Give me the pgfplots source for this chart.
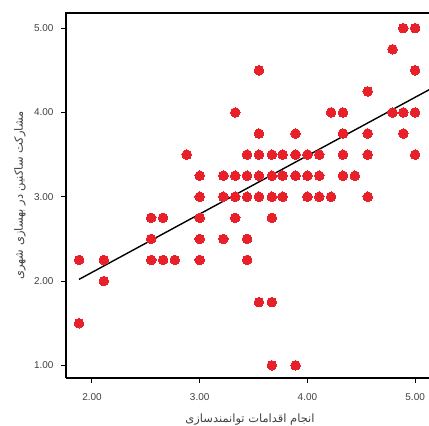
\documentclass[border=0pt]{standalone}
\usepackage{pgfplots}
\pgfplotsset{compat=1.18}
\usepackage{fontspec}
\setmainfont{Liberation Sans}
\newfontfamily\arabicfont[Script=Arabic]{DejaVu Sans}
\TeXXeTstate=1
\definecolor{dotRed}{RGB}{232, 32, 42}

\pgfplotstableread{
x y
1.88 2.25
1.88 1.50
2.11 2.25
2.11 2.00
2.55 2.75
2.55 2.50
2.55 2.25
2.66 2.75
2.66 2.25
2.77 2.25
2.88 3.50
3.00 3.25
3.00 3.00
3.00 2.75
3.00 2.50
3.00 2.25
3.22 3.25
3.22 3.00
3.22 2.50
3.33 4.00
3.33 3.25
3.33 3.00
3.33 2.75
3.44 3.50
3.44 3.25
3.44 3.00
3.44 2.50
3.44 2.25
3.55 4.50
3.55 3.75
3.55 3.50
3.55 3.25
3.55 3.00
3.55 1.75
3.67 3.50
3.67 3.25
3.67 3.00
3.67 2.75
3.67 1.75
3.67 1.00
3.77 3.50
3.77 3.25
3.77 3.00
3.89 3.75
3.89 3.50
3.89 3.25
3.89 1.00
4.00 3.50
4.00 3.25
4.00 3.00
4.11 3.50
4.11 3.25
4.11 3.00
4.22 4.00
4.22 3.00
4.33 4.00
4.33 3.75
4.33 3.50
4.33 3.25
4.44 3.25
4.56 4.25
4.56 3.75
4.56 3.50
4.56 3.00
4.79 4.75
4.79 4.00
4.89 5.00
4.89 4.00
4.89 3.75
5.00 5.00
5.00 4.50
5.00 4.00
5.00 3.50
}\scatterdata

\begin{document}
\begin{tikzpicture}
\begin{axis}[
    name=ax,
    scale only axis,
    width=368bp, height=365bp,
    xmin=1.759, xmax=5.175,
    ymin=0.85, ymax=5.18,
    xtick={2,3,4,5}, ytick={1,2,3,4,5},
    axis x line*=bottom, axis y line*=left,
    axis line style={line width=2bp, -},
    tick align=outside,
    major tick length=5bp,
    tick style={black, line width=1bp},
    /pgf/number format/.cd, fixed, fixed zerofill, precision=2, assume math mode=true,
    /pgfplots/.cd,
    ticklabel style={font=\fontsize{10}{12}\selectfont, text=black!75},
    xticklabel style={yshift=-7bp},
    yticklabel style={xshift=-4bp},
    xlabel={\arabicfont\beginR انجام اقدامات توانمندسازی\endR},
    ylabel={\arabicfont\beginR مشارکت ساکنین در بهسازی شهری\endR},
    label style={font=\fontsize{11.5}{13}\selectfont, text=black!75},
    xlabel style={at={(axis description cs:0.5,-0.114)}, anchor=center},
    ylabel style={at={(axis description cs:-0.125,0.5)}, anchor=center},
    clip=false,
]
\addplot[only marks, mark=*, mark size=4.8bp, color=dotRed,
    mark options={draw=dotRed, fill=dotRed, line width=0pt}] table[x=x, y=y] {\scatterdata};
\addplot[black, line width=1.4bp] coordinates {(1.88,2.02) (5.13,4.27)};
\end{axis}
\draw[line width=2bp] ([xshift=-1bp]ax.north west) -- ([xshift=10bp]ax.north east);
\pgfresetboundingbox
\useasboundingbox ([xshift=-66bp,yshift=-48bp]ax.south west) rectangle ([xshift=-5bp,yshift=13bp]ax.north east);
\end{tikzpicture}
\end{document}
